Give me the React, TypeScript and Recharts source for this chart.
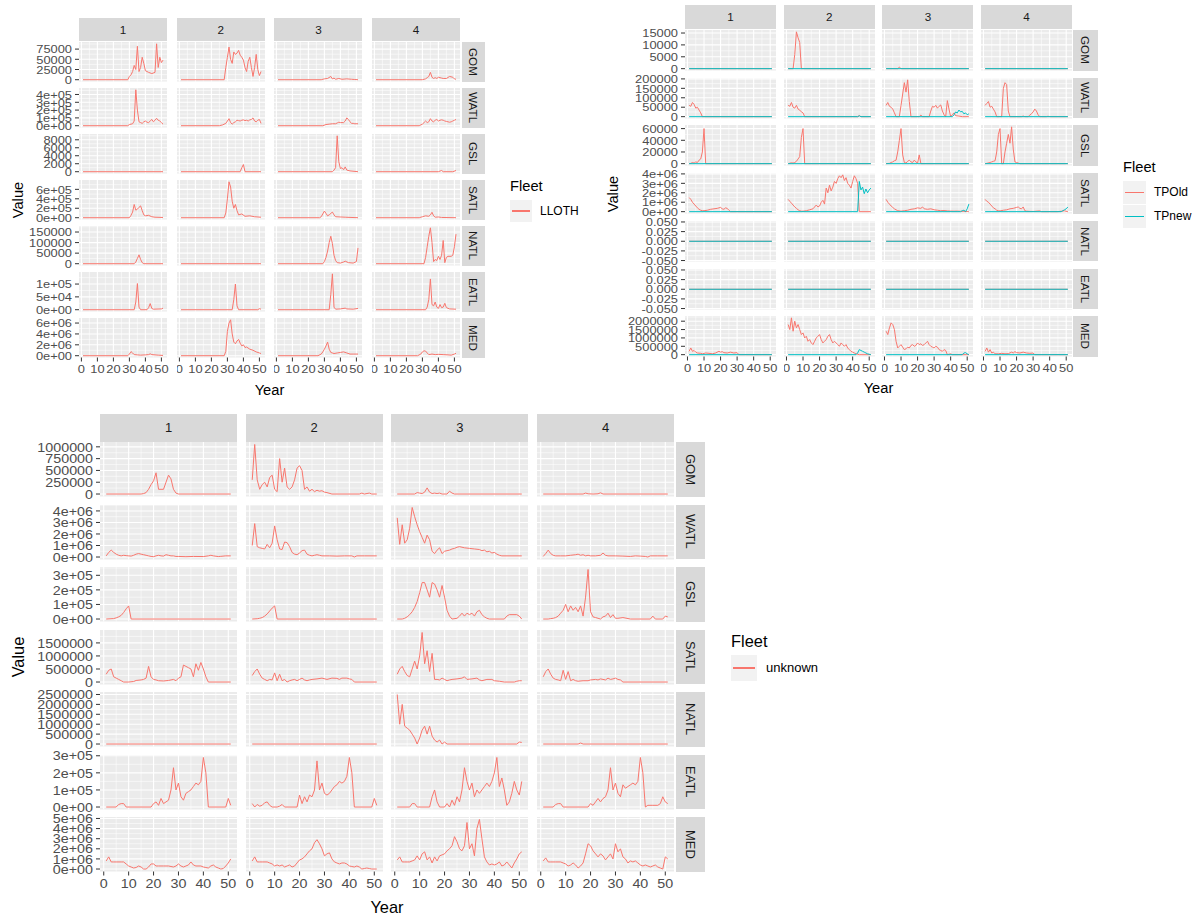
import React from 'react';
import { LineChart, Line, XAxis, YAxis, CartesianGrid } from 'recharts';

type Pt = [number, number];
type Col = Pt[];

const FONT = '"Liberation Sans", Arial, sans-serif';
const RED = '#F8766D';
const CYAN = '#00BFC4';

const REGIONS = ['GOM', 'WATL', 'GSL', 'SATL', 'NATL', 'EATL', 'MED'];
const QUARTERS = ['1', '2', '3', '4'];
const X_TICKS = [0, 10, 20, 30, 40, 50];
const X_MINOR = [5, 15, 25, 35, 45];
const X_DOMAIN: [number, number] = [-1.5, 53.5];
const Z: Col = [[1, 0], [51, 0]];

// ---------------- Fleet LLOTH ----------------
const LLOTH_GOM: Col[] = [
  [[1,0],[29,0],[30,8000],[31,12000],[32,20000],[33,35000],[34,25000],[35,82000],[36,20000],[37,30000],[38,55000],[39,40000],[40,22000],[42,18000],[44,15000],[46,18000],[47,88000],[48,30000],[49,55000],[50,42000],[51,48000]],
  [[1,0],[28,0],[29,30000],[30,55000],[31,80000],[32,50000],[33,40000],[34,68000],[35,62000],[36,65000],[37,72000],[38,60000],[39,55000],[40,48000],[41,30000],[42,20000],[43,45000],[44,55000],[45,30000],[46,8000],[47,30000],[48,62000],[49,25000],[50,10000],[51,20000]],
  [[1,0],[28,0],[30,2000],[32,3000],[34,8000],[35,2000],[36,4000],[37,1000],[39,3000],[41,1000],[44,2000],[47,1000],[49,500],[51,0]],
  [[1,0],[30,0],[32,2000],[33,5000],[34,8000],[35,18000],[36,6000],[37,3000],[38,5000],[39,3000],[40,6000],[42,4000],[43,3000],[45,3000],[47,8000],[49,6000],[50,2000],[51,1000]],
];
const LLOTH_WATL: Col[] = [
  [[1,0],[29,0],[30,15000],[31,20000],[32,25000],[33,60000],[34,460000],[35,200000],[36,50000],[37,40000],[38,30000],[39,50000],[40,60000],[41,45000],[42,40000],[43,60000],[44,80000],[45,50000],[46,70000],[47,95000],[48,70000],[49,60000],[50,40000],[51,20000]],
  [[1,0],[25,0],[27,10000],[29,30000],[30,60000],[31,90000],[32,40000],[33,20000],[34,40000],[35,50000],[36,70000],[37,65000],[38,60000],[39,70000],[40,75000],[41,65000],[42,70000],[43,60000],[44,75000],[45,80000],[46,100000],[47,60000],[48,50000],[49,70000],[50,80000],[51,30000]],
  [[1,0],[29,0],[31,15000],[33,20000],[35,25000],[37,25000],[38,35000],[39,45000],[40,40000],[42,40000],[43,60000],[44,100000],[45,80000],[46,50000],[47,30000],[48,30000],[49,25000],[51,25000]],
  [[1,0],[28,0],[30,20000],[31,40000],[32,60000],[33,40000],[34,50000],[35,90000],[36,60000],[37,50000],[38,70000],[39,80000],[40,60000],[41,70000],[42,75000],[43,70000],[44,60000],[45,55000],[46,50000],[47,45000],[48,50000],[49,60000],[50,70000],[51,80000]],
];
const LLOTH_GSL: Col[] = [
  Z,
  [[1,0],[38,0],[39,1000],[40,1800],[41,0],[51,0]],
  [[1,0],[35,0],[36,400],[37,1000],[38,9000],[39,2500],[40,800],[41,1000],[42,500],[43,1200],[44,400],[46,200],[51,0]],
  [[1,0],[40,0],[42,300],[43,0],[49,0],[51,300]],
];
const LLOTH_SATL: Col[] = [
  [[1,0],[30,0],[31,50000],[32,120000],[33,280000],[34,160000],[35,180000],[36,220000],[37,250000],[38,150000],[39,60000],[40,40000],[42,50000],[44,20000],[46,10000],[51,5000]],
  [[1,0],[28,0],[29,100000],[30,400000],[31,760000],[32,650000],[33,350000],[34,200000],[35,280000],[36,150000],[37,60000],[39,80000],[41,30000],[44,40000],[47,20000],[51,10000]],
  [[1,0],[27,0],[28,20000],[30,140000],[31,90000],[32,40000],[33,60000],[35,120000],[36,60000],[37,20000],[40,15000],[43,10000],[51,0]],
  [[1,0],[28,0],[30,20000],[32,40000],[34,30000],[35,60000],[36,115000],[37,40000],[38,10000],[40,15000],[42,5000],[51,0]],
];
const LLOTH_NATL: Col[] = [
  [[1,0],[33,0],[34,8000],[35,25000],[36,42000],[37,20000],[38,5000],[39,0],[51,0]],
  Z,
  [[1,0],[29,0],[30,10000],[31,30000],[32,60000],[33,100000],[34,130000],[35,95000],[36,40000],[37,15000],[38,5000],[40,3000],[42,8000],[43,12000],[45,5000],[48,3000],[50,10000],[51,75000]],
  [[1,0],[31,0],[32,30000],[33,80000],[34,130000],[35,170000],[36,100000],[37,10000],[38,20000],[39,15000],[40,35000],[41,20000],[42,40000],[43,110000],[44,5000],[45,30000],[46,35000],[48,35000],[49,40000],[50,80000],[51,140000]],
];
const LLOTH_EATL: Col[] = [
  [[1,0],[33,0],[34,30000],[35,102000],[36,10000],[37,0],[41,0],[42,8000],[43,24000],[44,5000],[45,2000],[50,3000],[51,6000]],
  [[1,0],[33,0],[34,40000],[35,100000],[36,15000],[37,0],[49,0],[50,4000],[51,2000]],
  [[1,0],[33,0],[34,60000],[35,140000],[36,10000],[37,2000],[40,3000],[43,6000],[44,3000],[48,2000],[51,5000]],
  [[1,0],[32,0],[33,10000],[34,40000],[35,120000],[36,20000],[37,15000],[38,30000],[39,10000],[40,5000],[41,20000],[42,8000],[43,10000],[44,25000],[45,8000],[47,3000],[51,2000]],
];
const LLOTH_MED: Col[] = [
  [[1,0],[29,0],[30,300000],[31,750000],[32,500000],[33,200000],[35,150000],[37,100000],[40,150000],[42,200000],[43,350000],[44,200000],[46,150000],[48,100000],[51,50000]],
  [[1,0],[28,0],[29,800000],[30,4.5e6],[31,6.0e6],[32,6.6e6],[33,4.0e6],[34,2.5e6],[35,2.2e6],[36,2.7e6],[37,3.0e6],[38,2.3e6],[39,1.8e6],[40,2.0e6],[41,1.5e6],[42,1.6e6],[44,1.2e6],[46,1.0e6],[48,700000],[50,500000],[51,400000]],
  [[1,0],[26,0],[28,300000],[29,700000],[30,1.2e6],[31,1.8e6],[32,2.5e6],[33,1.2e6],[34,600000],[36,400000],[38,500000],[40,600000],[42,700000],[44,500000],[46,300000],[48,300000],[51,300000]],
  [[1,0],[27,0],[29,300000],[30,700000],[31,900000],[32,850000],[33,500000],[34,200000],[36,300000],[38,200000],[40,250000],[43,200000],[46,150000],[48,100000],[50,300000],[51,450000]],
];
const LLOTH_TICKS: number[][] = [
  [0, 25000, 50000, 75000],
  [0, 1e5, 2e5, 3e5, 4e5],
  [0, 2000, 4000, 6000, 8000],
  [0, 2e5, 4e5, 6e5],
  [0, 50000, 100000, 150000],
  [0, 5e4, 1e5],
  [0, 2e6, 4e6, 6e6],
];
const LLOTH_FMT = ['int', 'sci', 'int', 'sci', 'int', 'sci', 'sci'];

// ---------------- Fleet TPOld / TPnew ----------------
const TPOLD_GOM: Col[] = [
  Z,
  [[1,0],[4,0],[5,6000],[6,15500],[7,13000],[8,11000],[9,0],[51,0]],
  [[1,0],[8,0],[9,600],[10,0],[51,0]],
  Z,
];
const TPOLD_WATL: Col[] = [
  [[1,60000],[2,55000],[3,75000],[4,65000],[5,45000],[6,50000],[7,35000],[8,20000],[9,0],[51,0]],
  [[1,60000],[2,55000],[3,75000],[4,50000],[5,45000],[6,60000],[7,40000],[8,35000],[9,25000],[10,20000],[11,0],[43,0],[44,6000],[45,0],[51,0]],
  [[1,60000],[2,75000],[3,55000],[4,50000],[5,40000],[6,20000],[7,0],[9,0],[10,60000],[11,120000],[12,180000],[13,130000],[14,195000],[15,80000],[16,0],[21,0],[22,8000],[23,0],[27,0],[28,30000],[29,55000],[30,50000],[31,60000],[32,45000],[33,55000],[34,62000],[35,30000],[36,10000],[37,0],[38,85000],[39,40000],[40,0],[41,10000],[42,20000],[43,5000],[45,3000],[47,0],[51,0]],
  [[1,60000],[2,70000],[3,80000],[4,50000],[5,55000],[6,40000],[7,25000],[8,0],[11,0],[12,150000],[13,180000],[14,170000],[15,30000],[16,0],[23,0],[24,3000],[25,0],[27,0],[28,8000],[29,15000],[30,25000],[31,40000],[32,30000],[33,10000],[34,0],[38,0],[39,2000],[40,0],[51,0]],
];
const TPOLD_GSL: Col[] = [
  [[1,0],[2,500],[3,2000],[4,1000],[5,3000],[6,2000],[7,6000],[8,8000],[9,20000],[10,60000],[11,0],[51,0]],
  [[1,0],[3,1500],[4,1000],[5,2000],[6,4000],[7,8000],[8,12000],[9,45000],[10,60000],[11,0],[51,0]],
  [[1,0],[3,500],[4,2000],[5,3000],[6,5000],[7,6000],[8,20000],[9,40000],[10,60000],[11,15000],[12,2000],[13,1000],[14,4000],[15,6000],[16,3000],[17,2000],[18,6000],[19,3000],[20,1000],[21,15000],[22,0],[51,0]],
  [[1,0],[2,500],[4,2000],[5,3000],[6,4000],[7,5000],[8,20000],[9,50000],[10,60000],[11,0],[12,0],[13,20000],[14,35000],[15,50000],[16,35000],[17,63000],[18,25000],[19,3000],[20,2000],[21,1000],[22,0],[51,0]],
];
const TPOLD_SATL: Col[] = [
  [[1,1.5e6],[2,1.3e6],[3,1.0e6],[4,800000],[5,600000],[6,400000],[7,250000],[8,150000],[9,100000],[10,100000],[12,150000],[14,250000],[16,300000],[18,350000],[20,450000],[21,300000],[22,250000],[23,400000],[24,350000],[25,150000],[26,0],[51,0]],
  [[1,1.3e6],[2,1.1e6],[3,900000],[4,700000],[5,500000],[6,350000],[7,200000],[8,100000],[9,50000],[10,50000],[12,100000],[14,200000],[16,300000],[18,700000],[19,500000],[20,600000],[21,1.0e6],[22,1.2e6],[23,800000],[24,2.5e6],[25,2.0e6],[26,2.8e6],[27,2.2e6],[28,2.6e6],[29,3.2e6],[30,3.0e6],[31,3.5e6],[32,3.8e6],[33,3.6e6],[34,3.9e6],[35,3.3e6],[36,3.6e6],[37,3.0e6],[38,2.8e6],[39,2.5e6],[40,3.2e6],[41,3.8e6],[42,3.5e6],[43,3.0e6],[44,0],[51,0]],
  [[1,1.3e6],[2,1.0e6],[3,800000],[4,600000],[5,450000],[6,300000],[7,200000],[8,100000],[10,50000],[12,100000],[14,150000],[16,250000],[18,300000],[20,400000],[22,350000],[23,500000],[24,300000],[26,250000],[28,300000],[30,200000],[32,150000],[34,100000],[36,120000],[38,80000],[40,60000],[42,50000],[44,60000],[46,40000],[48,30000],[50,20000],[51,0]],
  [[1,1.3e6],[2,1.1e6],[3,1.0e6],[4,800000],[5,600000],[6,400000],[7,300000],[8,150000],[9,100000],[10,80000],[12,150000],[14,200000],[16,300000],[18,350000],[20,450000],[21,500000],[22,350000],[23,300000],[24,500000],[25,100000],[26,50000],[28,30000],[30,20000],[34,80000],[35,0],[45,0],[47,50000],[49,80000],[51,0]],
];
const TPOLD_NATL: Col[] = [Z, Z, Z, Z];
const TPOLD_EATL: Col[] = [Z, Z, Z, Z];
const TPOLD_MED: Col[] = [
  [[1,200000],[2,400000],[3,200000],[4,250000],[5,150000],[6,100000],[8,80000],[9,50000],[11,100000],[13,80000],[15,50000],[17,100000],[19,200000],[20,150000],[21,180000],[22,120000],[24,100000],[26,150000],[28,100000],[30,120000],[31,0],[51,0]],
  [[1,1.8e6],[2,1.5e6],[3,2.2e6],[4,1.4e6],[5,2.0e6],[6,1.6e6],[7,1.8e6],[8,1.5e6],[9,1.2e6],[10,1.3e6],[11,1.0e6],[12,1.1e6],[13,800000],[14,900000],[15,700000],[16,600000],[17,800000],[18,1.0e6],[19,1.1e6],[20,1.2e6],[21,900000],[22,700000],[23,800000],[24,900000],[25,1.1e6],[26,1.2e6],[27,900000],[28,700000],[29,800000],[30,700000],[31,600000],[32,500000],[33,700000],[34,600000],[35,500000],[36,600000],[37,400000],[38,300000],[39,200000],[40,150000],[41,100000],[42,50000],[44,0],[51,0]],
  [[1,1.4e6],[2,1.2e6],[3,1.6e6],[4,1.9e6],[5,1.8e6],[6,1.5e6],[7,800000],[8,400000],[9,500000],[10,600000],[11,450000],[12,300000],[13,350000],[14,450000],[15,400000],[16,550000],[17,600000],[18,500000],[19,550000],[20,700000],[21,600000],[22,650000],[23,550000],[24,600000],[25,700000],[26,800000],[27,600000],[28,500000],[29,450000],[30,400000],[31,500000],[32,450000],[33,300000],[34,250000],[35,200000],[36,300000],[37,250000],[38,0],[40,50000],[41,0],[51,0]],
  [[1,200000],[2,400000],[3,150000],[4,300000],[5,100000],[6,150000],[7,50000],[9,50000],[11,80000],[13,50000],[15,60000],[17,150000],[18,100000],[19,180000],[20,120000],[22,100000],[24,150000],[26,100000],[28,80000],[30,100000],[31,0],[51,0]],
];
const TPNEW_GOM: Col[] = [Z, Z, Z, Z];
const TPNEW_WATL: Col[] = [
  Z,
  [[1,0],[43,0],[44,4000],[45,0],[51,0]],
  [[1,0],[41,0],[42,10000],[43,25000],[44,20000],[45,35000],[46,25000],[47,28000],[48,15000],[49,20000],[50,10000],[51,15000]],
  Z,
];
const TPNEW_GSL: Col[] = [Z, Z, Z, Z];
const TPNEW_SATL: Col[] = [
  Z,
  [[1,0],[43,0],[44,3.2e6],[45,2.3e6],[46,2.6e6],[47,1.9e6],[48,2.4e6],[49,2.0e6],[50,2.3e6],[51,2.5e6]],
  [[1,0],[46,0],[47,100000],[48,150000],[49,0],[50,300000],[51,800000]],
  [[1,0],[47,0],[48,100000],[49,200000],[50,300000],[51,500000]],
];
const TPNEW_NATL: Col[] = [Z, Z, Z, Z];
const TPNEW_EATL: Col[] = [Z, Z, Z, Z];
const TPNEW_MED: Col[] = [
  Z,
  [[1,0],[42,0],[43,100000],[44,300000],[45,250000],[46,200000],[47,150000],[48,100000],[49,50000],[51,0]],
  [[1,0],[47,0],[48,100000],[49,120000],[50,50000],[51,0]],
  Z,
];
const TP_TICKS: number[][] = [
  [0, 5000, 10000, 15000],
  [0, 50000, 100000, 150000, 200000],
  [0, 20000, 40000, 60000],
  [0, 1e6, 2e6, 3e6, 4e6],
  [-0.05, -0.025, 0, 0.025, 0.05],
  [-0.05, -0.025, 0, 0.025, 0.05],
  [0, 500000, 1000000, 1500000, 2000000],
];
const TP_FMT = ['int', 'int', 'int', 'sci', 'dec', 'dec', 'int'];

// ---------------- Fleet unknown ----------------
const UNK_GOM: Col[] = [
  [[1,0],[15,0],[16,10000],[17,30000],[18,100000],[19,200000],[20,280000],[21,450000],[22,100000],[23,100000],[24,100000],[25,250000],[26,400000],[27,320000],[28,100000],[29,20000],[30,0],[51,0]],
  [[1,300000],[2,1050000],[3,300000],[4,100000],[5,200000],[6,250000],[7,150000],[8,350000],[9,400000],[10,100000],[11,50000],[12,750000],[13,250000],[14,550000],[15,150000],[16,100000],[17,150000],[18,300000],[19,550000],[20,600000],[21,500000],[22,100000],[23,150000],[24,60000],[25,100000],[26,50000],[27,80000],[28,60000],[29,70000],[30,40000],[31,30000],[33,0],[44,0],[45,20000],[46,0],[48,20000],[49,0],[51,0]],
  [[1,0],[8,0],[9,30000],[10,20000],[11,10000],[12,40000],[13,130000],[14,40000],[15,10000],[16,20000],[17,10000],[18,20000],[19,0],[21,0],[22,60000],[23,20000],[24,0],[51,0]],
  [[1,0],[17,0],[18,20000],[19,5000],[21,0],[23,5000],[24,25000],[25,0],[51,0]],
];
const UNK_WATL: Col[] = [
  [[1,100000],[2,400000],[3,600000],[4,400000],[5,250000],[6,150000],[7,100000],[8,150000],[9,120000],[10,100000],[11,80000],[12,150000],[13,250000],[14,300000],[15,250000],[16,200000],[17,150000],[18,100000],[19,50000],[20,30000],[21,100000],[22,150000],[23,100000],[24,80000],[25,200000],[26,150000],[27,100000],[28,100000],[29,50000],[30,50000],[33,30000],[36,50000],[40,40000],[42,100000],[43,150000],[44,100000],[46,40000],[47,60000],[49,100000],[51,100000]],
  [[1,1.0e6],[2,2.9e6],[3,900000],[4,800000],[5,750000],[6,700000],[7,1.1e6],[8,800000],[9,1.2e6],[10,2.7e6],[11,1.5e6],[12,700000],[13,650000],[14,1.3e6],[15,1.25e6],[16,900000],[17,400000],[18,250000],[19,200000],[20,350000],[21,550000],[22,600000],[23,250000],[24,150000],[25,100000],[26,150000],[27,200000],[28,150000],[29,100000],[32,100000],[35,80000],[38,100000],[41,100000],[42,0],[43,100000],[46,100000],[51,100000]],
  [[1,3.4e6],[2,1.1e6],[3,2.8e6],[4,1.2e6],[5,1.5e6],[6,2.5e6],[7,4.3e6],[8,3.5e6],[9,2.8e6],[10,2.2e6],[11,1.7e6],[12,1.2e6],[13,1.9e6],[14,1.5e6],[15,500000],[16,300000],[17,600000],[18,800000],[19,300000],[20,500000],[21,550000],[22,600000],[23,700000],[24,750000],[25,850000],[26,900000],[27,850000],[28,800000],[30,750000],[32,700000],[34,650000],[35,550000],[36,600000],[37,450000],[38,500000],[39,350000],[40,400000],[41,250000],[42,150000],[43,100000],[51,100000]],
  [[1,50000],[2,300000],[3,600000],[4,300000],[5,150000],[6,100000],[8,100000],[10,100000],[12,150000],[14,200000],[15,250000],[16,150000],[17,200000],[18,100000],[19,150000],[20,100000],[22,100000],[24,150000],[25,350000],[26,150000],[27,100000],[30,100000],[33,80000],[36,50000],[38,100000],[40,80000],[42,50000],[43,0],[44,100000],[47,100000],[51,100000]],
];
const UNK_GSL: Col[] = [
  [[1,0],[4,3000],[5,8000],[6,15000],[7,25000],[8,45000],[9,70000],[10,90000],[11,0],[51,0]],
  [[1,0],[3,2000],[4,5000],[5,10000],[6,20000],[7,35000],[8,55000],[9,75000],[10,90000],[11,0],[51,0]],
  [[1,0],[3,0],[4,5000],[5,15000],[6,30000],[7,50000],[8,80000],[9,120000],[10,180000],[11,250000],[12,250000],[13,200000],[14,150000],[15,250000],[16,240000],[17,200000],[18,150000],[19,230000],[20,150000],[21,60000],[22,20000],[23,0],[25,5000],[26,20000],[27,40000],[28,20000],[29,40000],[30,30000],[31,40000],[32,20000],[33,50000],[34,60000],[35,30000],[36,15000],[37,5000],[38,0],[44,0],[45,20000],[46,30000],[49,30000],[50,20000],[51,0]],
  [[1,0],[3,0],[4,3000],[5,5000],[6,10000],[7,20000],[8,40000],[9,60000],[10,100000],[11,50000],[12,90000],[13,60000],[14,80000],[15,50000],[16,90000],[17,20000],[18,150000],[19,340000],[20,50000],[21,15000],[22,10000],[23,5000],[24,0],[25,15000],[26,20000],[27,40000],[28,10000],[29,30000],[30,5000],[31,5000],[33,10000],[36,0],[44,0],[45,20000],[46,0],[49,0],[50,20000],[51,15000]],
];
const UNK_SATL: Col[] = [
  [[1,300000],[2,450000],[3,500000],[4,200000],[5,150000],[6,100000],[7,50000],[8,0],[10,0],[12,20000],[13,60000],[15,80000],[16,100000],[17,150000],[18,600000],[19,200000],[20,100000],[21,80000],[22,50000],[24,40000],[26,60000],[28,100000],[29,50000],[30,150000],[31,200000],[32,650000],[33,600000],[34,550000],[35,500000],[36,200000],[37,700000],[38,450000],[39,750000],[40,500000],[41,200000],[42,0],[51,0]],
  [[1,250000],[2,400000],[3,500000],[4,300000],[5,150000],[6,100000],[7,50000],[8,100000],[9,80000],[10,350000],[11,50000],[12,300000],[13,50000],[14,100000],[15,0],[16,50000],[17,80000],[18,100000],[19,50000],[20,100000],[21,150000],[22,80000],[23,50000],[24,80000],[25,100000],[27,120000],[29,150000],[31,100000],[33,150000],[35,140000],[36,100000],[37,150000],[39,150000],[40,120000],[41,100000],[42,0],[51,0]],
  [[1,300000],[2,500000],[3,600000],[4,400000],[5,250000],[6,200000],[7,500000],[8,800000],[9,500000],[10,1.0e6],[11,1.9e6],[12,700000],[13,1.2e6],[14,400000],[15,1.1e6],[16,100000],[17,100000],[18,80000],[19,150000],[20,100000],[21,50000],[22,80000],[23,100000],[25,120000],[27,150000],[28,200000],[29,100000],[31,120000],[33,150000],[34,80000],[35,50000],[37,100000],[39,100000],[40,50000],[42,30000],[44,0],[48,0],[49,30000],[50,50000],[51,50000]],
  [[1,200000],[2,400000],[3,500000],[4,300000],[5,150000],[6,100000],[7,80000],[8,50000],[9,450000],[10,100000],[11,400000],[12,50000],[13,100000],[14,50000],[15,30000],[17,50000],[19,50000],[20,80000],[22,100000],[23,80000],[24,120000],[25,100000],[26,80000],[27,150000],[28,100000],[29,120000],[30,150000],[31,100000],[32,80000],[33,0],[51,0]],
];
const UNK_NATL: Col[] = [
  Z,
  Z,
  [[1,2.5e6],[2,1.0e6],[3,2.0e6],[4,900000],[5,800000],[6,700000],[7,500000],[8,300000],[9,0],[10,300000],[11,700000],[12,900000],[13,500000],[14,900000],[15,400000],[16,200000],[17,100000],[18,200000],[19,0],[20,100000],[21,0],[49,0],[50,100000],[51,80000]],
  [[1,0],[15,0],[16,50000],[17,0],[51,0]],
];
const UNK_EATL: Col[] = [
  [[1,0],[5,0],[6,15000],[7,20000],[8,20000],[9,0],[19,0],[20,20000],[21,30000],[22,10000],[23,50000],[24,20000],[25,30000],[26,40000],[27,100000],[28,230000],[29,100000],[30,140000],[31,60000],[32,40000],[33,80000],[34,90000],[35,100000],[36,120000],[37,140000],[38,130000],[39,150000],[40,290000],[41,200000],[42,0],[49,0],[50,50000],[51,10000]],
  [[1,20000],[2,0],[3,15000],[4,5000],[5,10000],[6,25000],[7,30000],[8,10000],[9,0],[11,0],[12,5000],[13,15000],[14,0],[19,0],[20,70000],[21,20000],[22,60000],[23,30000],[24,70000],[25,60000],[26,100000],[27,270000],[28,100000],[29,140000],[30,80000],[31,70000],[32,80000],[33,100000],[34,120000],[35,130000],[36,150000],[37,140000],[38,150000],[39,180000],[40,290000],[41,200000],[42,0],[49,0],[50,50000],[51,10000]],
  [[1,0],[6,0],[7,20000],[8,20000],[9,0],[14,0],[15,60000],[16,100000],[17,30000],[18,0],[20,0],[21,20000],[22,0],[23,40000],[24,10000],[25,60000],[26,30000],[27,100000],[28,230000],[29,150000],[30,100000],[31,140000],[32,60000],[33,100000],[34,80000],[35,100000],[36,120000],[37,140000],[38,120000],[39,150000],[40,200000],[41,290000],[42,120000],[43,170000],[44,100000],[45,10000],[46,30000],[47,80000],[48,150000],[49,100000],[50,70000],[51,150000]],
  [[1,0],[5,0],[6,15000],[7,20000],[8,20000],[9,0],[19,0],[20,20000],[21,10000],[22,30000],[23,50000],[24,30000],[25,50000],[26,60000],[27,100000],[28,230000],[29,100000],[30,140000],[31,80000],[32,60000],[33,130000],[34,110000],[35,120000],[36,130000],[37,140000],[38,130000],[39,150000],[40,290000],[41,200000],[42,0],[43,10000],[45,10000],[47,10000],[48,20000],[49,60000],[50,30000],[51,20000]],
];
const UNK_MED: Col[] = [
  [[1,800000],[2,1.2e6],[3,700000],[4,700000],[5,700000],[7,700000],[8,700000],[9,500000],[10,300000],[11,200000],[12,100000],[13,150000],[14,300000],[15,200000],[16,0],[17,0],[18,200000],[19,500000],[20,500000],[21,300000],[22,300000],[24,300000],[26,300000],[28,200000],[29,300000],[30,500000],[31,300000],[32,200000],[33,300000],[34,400000],[35,700000],[36,400000],[37,300000],[39,300000],[40,200000],[41,150000],[42,100000],[43,300000],[44,400000],[45,200000],[46,100000],[47,0],[48,50000],[49,300000],[50,600000],[51,1.0e6]],
  [[1,800000],[2,1.2e6],[3,700000],[4,700000],[5,700000],[7,700000],[8,600000],[9,500000],[10,300000],[11,400000],[12,300000],[13,400000],[14,200000],[15,300000],[16,400000],[17,200000],[18,300000],[19,600000],[20,900000],[21,1.0e6],[22,1.2e6],[23,1.5e6],[24,1.8e6],[25,2.0e6],[26,2.6e6],[27,2.9e6],[28,2.5e6],[29,2.0e6],[30,1.3e6],[31,1.5e6],[32,1.6e6],[33,1.0e6],[34,700000],[35,600000],[36,500000],[37,600000],[38,600000],[39,500000],[40,300000],[41,250000],[42,200000],[43,300000],[44,200000],[45,0],[46,50000],[47,100000],[48,50000],[49,0],[51,0]],
  [[1,900000],[2,1.2e6],[3,700000],[4,700000],[5,700000],[6,700000],[7,800000],[8,900000],[9,1.3e6],[10,900000],[11,1.5e6],[12,1.7e6],[13,900000],[14,1.2e6],[15,600000],[16,1.2e6],[17,800000],[18,1.3e6],[19,1.4e6],[20,1.5e6],[21,1.8e6],[22,2.0e6],[23,2.3e6],[24,3.2e6],[25,2.7e6],[26,2.0e6],[27,1.8e6],[28,2.3e6],[29,4.6e6],[30,2.0e6],[31,2.5e6],[32,1.3e6],[33,4.0e6],[34,4.9e6],[35,3.0e6],[36,1.2e6],[37,700000],[38,400000],[39,500000],[40,400000],[41,500000],[42,700000],[43,300000],[44,400000],[45,700000],[46,400000],[47,100000],[48,600000],[49,1.0e6],[50,1.5e6],[51,1.7e6]],
  [[1,800000],[2,1.1e6],[3,700000],[4,700000],[6,700000],[8,700000],[9,600000],[10,500000],[11,300000],[12,400000],[13,600000],[14,400000],[15,100000],[16,300000],[17,600000],[18,1.5e6],[19,2.5e6],[20,2.3e6],[21,1.8e6],[22,1.5e6],[23,1.2e6],[24,1.5e6],[25,1.3e6],[26,900000],[27,1.2e6],[28,1.5e6],[29,1.0e6],[30,2.5e6],[31,1.7e6],[32,2.0e6],[33,1.2e6],[34,1.0e6],[35,600000],[36,800000],[37,700000],[38,800000],[39,600000],[40,400000],[41,300000],[42,400000],[43,300000],[44,200000],[45,300000],[46,400000],[47,200000],[48,100000],[49,0],[50,1.2e6],[51,1.0e6]],
];
const UNK_TICKS: number[][] = [
  [0, 250000, 500000, 750000, 1000000],
  [0, 1e6, 2e6, 3e6, 4e6],
  [0, 1e5, 2e5, 3e5],
  [0, 500000, 1000000, 1500000],
  [0, 500000, 1000000, 1500000, 2000000, 2500000],
  [0, 1e5, 2e5, 3e5],
  [0, 1e6, 2e6, 3e6, 4e6, 5e6],
];
const UNK_FMT = ['int', 'sci', 'sci', 'int', 'int', 'sci', 'sci'];

// ---------------- helpers ----------------
function fmtVal(v: number, kind: string): string {
  if (kind === 'sci') {
    if (v === 0) return '0e+00';
    const e = Math.floor(Math.log10(Math.abs(v)) + 1e-9);
    const m = Math.round(v / Math.pow(10, e));
    return `${m}e${e < 0 ? '-' : '+'}${String(Math.abs(e)).padStart(2, '0')}`;
  }
  if (kind === 'dec') return v.toFixed(3);
  return String(v);
}

interface SeriesDef { name: string; color: string; rows: Col[][] }
interface FacetCfg {
  cols: number[]; rowTop: number; rowPitch: number; pw: number; ph: number;
  stripTop: number; stripH: number; rStripX: number; rStripW: number;
  yAxisW: number; xAxisH: number; fs: number; stripFs: number; sx: number;
  series: SeriesDef[]; ticks: number[][]; fmts: string[];
  xTitle: [number, number]; yTitle: [number, number]; titleFs: number;
}

const PAD = 9;

function Facet({ cfg }: { cfg: FacetCfg }) {
  const out: React.ReactNode[] = [];
  const nRows = REGIONS.length;
  QUARTERS.forEach((q, c) => {
    out.push(
      <div key={'st' + c} style={{ position: 'absolute', left: cfg.cols[c], top: cfg.stripTop, width: cfg.pw, height: cfg.stripH, background: '#D9D9D9', display: 'flex', alignItems: 'center', justifyContent: 'center', fontFamily: FONT, fontSize: cfg.stripFs, color: '#1A1A1A' }}>{q}</div>
    );
  });
  REGIONS.forEach((r, i) => {
    const top = cfg.rowTop + i * cfg.rowPitch;
    out.push(
      <div key={'rs' + i} style={{ position: 'absolute', left: cfg.rStripX, top, width: cfg.rStripW, height: cfg.ph, background: '#D9D9D9', display: 'flex', alignItems: 'center', justifyContent: 'center', fontFamily: FONT, fontSize: cfg.stripFs, color: '#1A1A1A' }}>
        <span style={{ writingMode: 'vertical-rl' as any }}>{r}</span>
      </div>
    );
    const ticks = cfg.ticks[i];
    const all: number[] = [];
    cfg.series.forEach(s => s.rows[i].forEach(col => col.forEach(p => all.push(p[1]))));
    const mn = Math.min(...all), mx = Math.max(...all);
    const dom: [number, number] = mx === mn ? [mn - 0.0525, mn + 0.0525] : [mn - (mx - mn) * 0.05, mx + (mx - mn) * 0.05];
    const step = ticks[1] - ticks[0];
    const minorY = [ticks[0] - step / 2, ...ticks.map(t => t + step / 2)].filter(v => v > dom[0] && v < dom[1]);
    const fmt = cfg.fmts[i];
    for (let c = 0; c < 4; c++) {
      const first = c === 0;
      const bottom = i === nRows - 1;
      const yW = first ? cfg.yAxisW : 0;
      const xH = bottom ? cfg.xAxisH : 0;
      const padB = bottom ? 0 : PAD;
      out.push(
        <div key={`p${i}_${c}`} style={{ position: 'absolute', left: cfg.cols[c] - yW, top: top - PAD }}>
          <LineChart width={cfg.pw + yW + PAD} height={cfg.ph + xH + PAD + padB} margin={{ top: PAD, right: PAD, bottom: padB, left: 0 }}>
            <CartesianGrid fill="#EBEBEB" stroke="#FFFFFF" strokeWidth={0.55} horizontalValues={minorY} verticalValues={X_MINOR} />
            <CartesianGrid stroke="#FFFFFF" strokeWidth={1.1} horizontalValues={ticks} verticalValues={X_TICKS} />
            <XAxis type="number" dataKey="x" domain={X_DOMAIN} ticks={X_TICKS} allowDataOverflow interval={0}
              hide={!bottom} height={xH} axisLine={false} tickSize={4} tickMargin={2.5}
              tickLine={{ stroke: '#333333', strokeWidth: 1 }}
              tick={(p: any) => (
                <g transform={`translate(${p.x},${p.y})`}>
                  <text transform={`scale(${cfg.sx},1)`} textAnchor="middle" dy="0.75em" fontSize={cfg.fs} fill="#4D4D4D" fontFamily={FONT}>{p.payload.value}</text>
                </g>
              )} />
            <YAxis type="number" domain={dom} ticks={ticks} allowDataOverflow interval={0}
              hide={!first} width={yW} axisLine={false} tickSize={4} tickMargin={3}
              tickLine={{ stroke: '#333333', strokeWidth: 1 }}
              tick={(p: any) => (
                <g transform={`translate(${p.x},${p.y})`}>
                  <text transform={`scale(${cfg.sx},1)`} textAnchor="end" dy="0.36em" fontSize={cfg.fs} fill="#4D4D4D" fontFamily={FONT}>{fmtVal(p.payload.value, fmt)}</text>
                </g>
              )} />
            {cfg.series.map(s => (
              <Line key={s.name} data={s.rows[i][c].map(([x, y]) => ({ x, y }))} dataKey="y" type="linear"
                stroke={s.color} strokeWidth={1} dot={false} activeDot={false} isAnimationActive={false} />
            ))}
          </LineChart>
        </div>
      );
    }
  });
  out.push(
    <div key="xt" style={{ position: 'absolute', left: cfg.xTitle[0] - 50, top: cfg.xTitle[1] - 10, width: 100, height: 20, textAlign: 'center', lineHeight: '20px', fontFamily: FONT, fontSize: cfg.titleFs, color: '#000' }}>Year</div>
  );
  out.push(
    <div key="yt" style={{ position: 'absolute', left: cfg.yTitle[0] - 50, top: cfg.yTitle[1] - 10, width: 100, height: 20, textAlign: 'center', lineHeight: '20px', fontFamily: FONT, fontSize: cfg.titleFs, color: '#000', transform: 'rotate(-90deg)' }}>Value</div>
  );
  return <>{out}</>;
}

function Legend({ x, y, title, items, titleFs, fs, box, gap }: any) {
  return (
    <>
      <div style={{ position: 'absolute', left: x, top: y - 10, height: 20, lineHeight: '20px', fontFamily: FONT, fontSize: titleFs, color: '#000' }}>{title}</div>
      {items.map((it: any, k: number) => (
        <React.Fragment key={k}>
          <div style={{ position: 'absolute', left: x, top: y + 14 + k * (box + 1), width: box, height: box, background: '#F2F2F2' }}>
            <div style={{ position: 'absolute', left: 2, right: 2, top: box / 2 - 0.75, height: 1.5, background: it.color }} />
          </div>
          <div style={{ position: 'absolute', left: x + box + gap, top: y + 14 + k * (box + 1), height: box, lineHeight: box + 'px', fontFamily: FONT, fontSize: fs, color: '#000' }}>{it.label}</div>
        </React.Fragment>
      ))}
    </>
  );
}

const CFG1: FacetCfg = {
  cols: [79, 176.7, 274.4, 372.1], rowTop: 42, rowPitch: 46, pw: 88, ph: 39.5,
  stripTop: 17.5, stripH: 23.5, rStripX: 462, rStripW: 23,
  yAxisW: 62, xAxisH: 26, fs: 11.7, stripFs: 11.7, sx: 1.1,
  series: [{ name: 'LLOTH', color: RED, rows: [LLOTH_GOM, LLOTH_WATL, LLOTH_GSL, LLOTH_SATL, LLOTH_NATL, LLOTH_EATL, LLOTH_MED] }],
  ticks: LLOTH_TICKS, fmts: LLOTH_FMT, xTitle: [269.5, 390], yTitle: [17.5, 200], titleFs: 14.7,
};
const CFG2: FacetCfg = {
  cols: [685, 783.7, 882.4, 981.1], rowTop: 30, rowPitch: 47.7, pw: 91, ph: 40.5,
  stripTop: 4.5, stripH: 24.5, rStripX: 1073, rStripW: 25,
  yAxisW: 78, xAxisH: 26, fs: 11.7, stripFs: 11.7, sx: 1.1,
  series: [
    { name: 'TPOld', color: RED, rows: [TPOLD_GOM, TPOLD_WATL, TPOLD_GSL, TPOLD_SATL, TPOLD_NATL, TPOLD_EATL, TPOLD_MED] },
    { name: 'TPnew', color: CYAN, rows: [TPNEW_GOM, TPNEW_WATL, TPNEW_GSL, TPNEW_SATL, TPNEW_NATL, TPNEW_EATL, TPNEW_MED] },
  ],
  ticks: TP_TICKS, fmts: TP_FMT, xTitle: [878.5, 388], yTitle: [613, 193.5], titleFs: 14.7,
};
const CFG3: FacetCfg = {
  cols: [100, 245.7, 391.4, 537.1], rowTop: 442, rowPitch: 62.5, pw: 137, ph: 54.5,
  stripTop: 413.5, stripH: 28, rStripX: 675.5, rStripW: 29.5,
  yAxisW: 88, xAxisH: 28, fs: 13, stripFs: 13, sx: 1.1,
  series: [{ name: 'unknown', color: RED, rows: [UNK_GOM, UNK_WATL, UNK_GSL, UNK_SATL, UNK_NATL, UNK_EATL, UNK_MED] }],
  ticks: UNK_TICKS, fmts: UNK_FMT, xTitle: [387, 907], yTitle: [18, 657], titleFs: 16.4,
};

export default function App() {
  return (
    <div style={{ position: 'absolute', left: 0, top: 0, width: 1203, height: 919, background: '#FFFFFF', overflow: 'hidden' }}>
      <Facet cfg={CFG1} />
      <Facet cfg={CFG2} />
      <Facet cfg={CFG3} />
      <Legend x={510} y={186} title="Fleet" titleFs={14.7} fs={12} box={22} gap={8} items={[{ label: 'LLOTH', color: RED }]} />
      <Legend x={1123} y={167} title="Fleet" titleFs={14.7} fs={12} box={23} gap={8} items={[{ label: 'TPOld', color: RED }, { label: 'TPnew', color: CYAN }]} />
      <Legend x={731} y={641} title="Fleet" titleFs={16.4} fs={13} box={26} gap={9} items={[{ label: 'unknown', color: RED }]} />
    </div>
  );
}
